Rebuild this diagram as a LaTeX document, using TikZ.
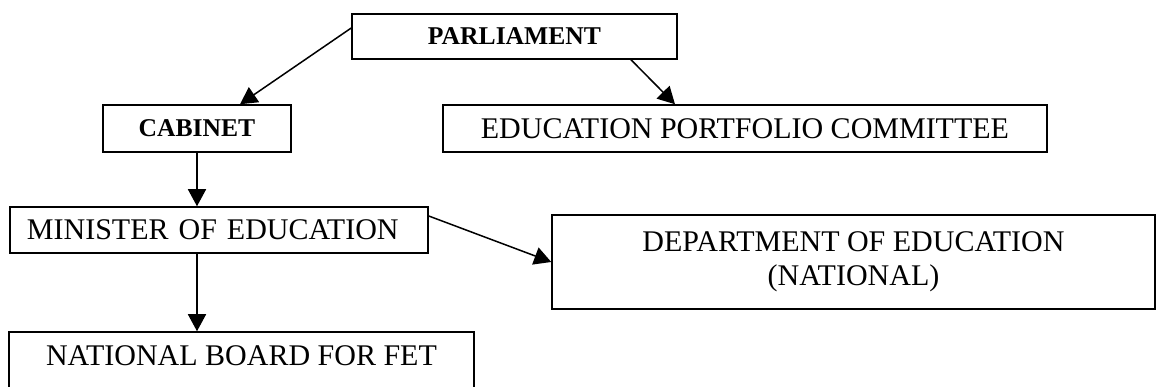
\documentclass[tikz,border=0pt]{standalone}
\usepackage{fontspec}
\setmainfont{Liberation Serif}
\usetikzlibrary{arrows.meta,calc}
\begin{document}
\begin{tikzpicture}[x=1pt,y=-1pt,
  box/.style={draw, line width=1.5pt, rectangle, inner sep=0pt, anchor=center},
  plain/.style={font=\fontsize{30}{34}\selectfont},
  heavy/.style={font=\fontsize{25.6}{30}\selectfont\bfseries},
  link/.style={line width=1.5pt, -{Triangle[length=17pt,width=18pt]}}]
  \useasboundingbox (0,0) rectangle (1157,387);
  \clip (0,0) rectangle (1157,387);

  % top level
  \node[box, heavy, minimum width=325pt, minimum height=45pt] (parl) at (514.5,36.5) {PARLIAMENT};
  \node[box, heavy, minimum width=188pt, minimum height=47pt] (cab) at (197,128.5) {CABINET};
  \node[box, plain, minimum width=604pt, minimum height=47pt] (port) at (745,128.5) {EDUCATION PORTFOLIO COMMITTEE};

  % ministry level
  \node[box, plain, minimum height=46pt, text width=384pt, inner xsep=17pt, align=left] (min) at (219,230) {MINISTER OF EDUCATION};
  \node[box, plain, minimum width=603pt, minimum height=94pt, align=center] (dept) at (853.5,262) {DEPARTMENT OF EDUCATION\\(NATIONAL)};
  \node[box, plain, minimum width=465pt, minimum height=60pt, text depth=12pt] (board) at (241.5,362) {NATIONAL BOARD FOR FET};

  % connectors
  \draw[link] ([yshift=8.5pt]parl.west) -- ([xshift=43pt]cab.north);
  \draw[link] ([xshift=116.5pt]parl.south) -- ([xshift=-70pt]port.north);
  \draw[link] (cab.south) -- (cab.south |- min.north);
  \draw[link] (cab.south |- min.south) -- (cab.south |- board.north);
  \draw[link] ([yshift=14pt]min.east) -- (dept.west);
\end{tikzpicture}
\end{document}
